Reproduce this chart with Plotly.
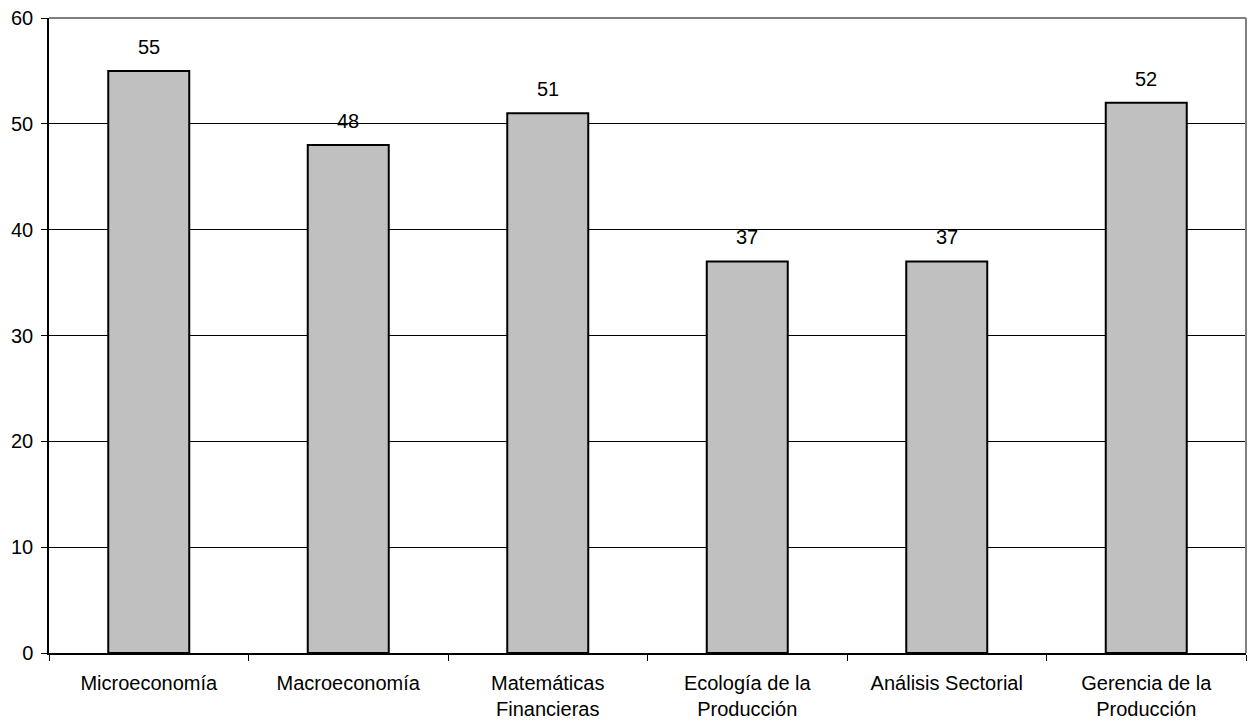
import plotly.graph_objects as go

categories = ["Microeconomía", "Macroeconomía", "Matemáticas<br>Financieras",
              "Ecología de la<br>Producción", "Análisis Sectorial", "Gerencia de la<br>Producción"]
values = [55, 48, 51, 37, 37, 52]
y_ticks = [0, 10, 20, 30, 40, 50, 60]

font = dict(family="Liberation Sans, Arial, sans-serif", size=20, color="black")

fig = go.Figure()
fig.add_trace(go.Bar(
    x=categories, y=values,
    marker=dict(color="#c0c0c0", line=dict(color="black", width=2)),
    hoverinfo="skip",
))
for c, v in zip(categories, values):
    fig.add_annotation(x=c, y=v, text=str(v), showarrow=False,
                       yanchor="bottom", yshift=11, font=font)

fig.update_layout(
    width=1254, height=721,
    margin=dict(l=49, r=8, t=18, b=68),
    plot_bgcolor="white", paper_bgcolor="white",
    bargap=0.594, showlegend=False, font=font,
    shapes=[
        dict(type="line", xref="paper", yref="paper", x0=0, x1=1, y0=1, y1=1,
             line=dict(color="#808080", width=2)),
        dict(type="line", xref="paper", yref="paper", x0=1, x1=1, y0=0, y1=1,
             line=dict(color="#808080", width=2)),
    ],
)
fig.update_xaxes(showline=True, linecolor="black", linewidth=1.5, automargin=False,
                 ticks="outside", tickson="boundaries", ticklen=6, tickcolor="black",
                 ticklabelstandoff=11, ticklabeloverflow="allow",
                 showgrid=False, tickfont=font)
fig.update_yaxes(range=[0, 60], tickvals=y_ticks, showline=True, linecolor="black", linewidth=1.5,
                 automargin=False, ticklabeloverflow="allow",
                 ticks="outside", ticklen=6, tickcolor="black", ticklabelstandoff=4,
                 showgrid=True, gridcolor="black", gridwidth=1, zeroline=False,
                 tickfont=font)

fig.write_html("out.html", config={"displayModeBar": False},
               post_script="document.body.style.margin='0';document.body.style.overflow='hidden';")
